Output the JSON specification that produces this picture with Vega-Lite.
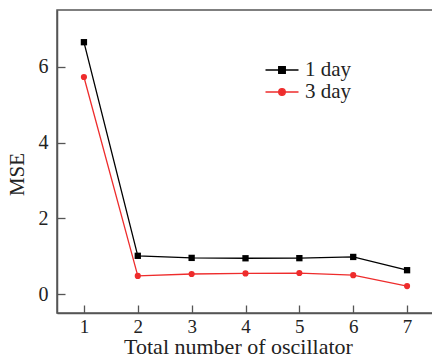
{
  "$schema": "https://vega.github.io/schema/vega-lite/v6.json",
  "width": 377,
  "height": 303,
  "autosize": {"type": "none"},
  "padding": {"left": 57, "top": 10, "right": 0, "bottom": 47},
  "background": "white",
  "config": {
    "font": "Liberation Serif",
    "view": {"stroke": "#555555", "strokeWidth": 1.5},
    "axis": {
      "grid": false,
      "domainColor": "#555555",
      "domainWidth": 1.5,
      "tickColor": "#555555",
      "tickWidth": 1.3,
      "tickSize": -8,
      "labelFont": "Liberation Serif",
      "labelFontSize": 20,
      "labelColor": "#222222",
      "titleFont": "Liberation Serif",
      "titleFontSize": 21,
      "titleFontWeight": "normal",
      "titleColor": "#222222"
    }
  },
  "data": {
    "values": [
      {"n": 1, "mse": 6.65, "series": "1 day"},
      {"n": 2, "mse": 1.01, "series": "1 day"},
      {"n": 3, "mse": 0.955, "series": "1 day"},
      {"n": 4, "mse": 0.945, "series": "1 day"},
      {"n": 5, "mse": 0.948, "series": "1 day"},
      {"n": 6, "mse": 0.98, "series": "1 day"},
      {"n": 7, "mse": 0.63, "series": "1 day"},
      {"n": 1, "mse": 5.73, "series": "3 day"},
      {"n": 2, "mse": 0.48, "series": "3 day"},
      {"n": 3, "mse": 0.53, "series": "3 day"},
      {"n": 4, "mse": 0.545, "series": "3 day"},
      {"n": 5, "mse": 0.555, "series": "3 day"},
      {"n": 6, "mse": 0.5, "series": "3 day"},
      {"n": 7, "mse": 0.21, "series": "3 day"}
    ]
  },
  "encoding": {
    "x": {
      "field": "n",
      "type": "quantitative",
      "scale": {"domain": [0.5, 7.5], "nice": false, "zero": false},
      "axis": {"values": [1, 2, 3, 4, 5, 6, 7], "title": "Total number of oscillator", "titleFontSize": 22, "titleX": 181, "labelFontSize": 19, "labelPadding": 12, "titlePadding": 0, "labelFlush": false}
    },
    "y": {
      "field": "mse",
      "type": "quantitative",
      "scale": {"domain": [-0.5, 7.5], "nice": false, "zero": false},
      "axis": {"values": [0, 2, 4, 6], "title": "MSE", "titleY": 164, "labelPadding": 17, "titlePadding": 11}
    }
  },
  "layer": [
    {
      "mark": {"type": "line", "strokeWidth": 1.3},
      "encoding": {
        "color": {
          "field": "series",
          "type": "nominal",
          "scale": {"domain": ["1 day", "3 day"], "range": ["#000000", "#ee2c2c"]},
          "legend": {
            "title": null,
            "orient": "none",
            "legendX": 213,
            "legendY": 48,
            "labelFont": "Liberation Serif",
            "labelFontSize": 21,
            "labelColor": "#222222",
            "labelOffset": 11,
            "rowPadding": 0,
            "symbolType": "M-1.5,0H-0.3M0.3,0H1.5M-0.3,-0.3H0.3V0.3H-0.3Z",
            "symbolSize": 484,
            "symbolStrokeWidth": 1.3,
            "encode": {
              "symbols": {
                "update": {
                  "shape": {"signal": "datum.value === '3 day' ? 'M-1.5,0H-0.3M0.3,0H1.5M0.3,0A0.3,0.3 0 1,1 -0.3,0A0.3,0.3 0 1,1 0.3,0Z' : 'M-1.5,0H-0.3M0.3,0H1.5M-0.3,-0.3H0.3V0.3H-0.3Z'"},
                  "fill": {"scale": "color", "field": "value"},
                  "stroke": {"scale": "color", "field": "value"}
                }
              }
            }
          }
        }
      }
    },
    {
      "transform": [{"filter": "datum.series === '1 day'"}],
      "mark": {"type": "point", "shape": "square", "filled": true, "opacity": 1, "size": 40, "color": "#000000"}
    },
    {
      "transform": [{"filter": "datum.series === '3 day'"}],
      "mark": {"type": "point", "shape": "circle", "filled": true, "opacity": 1, "size": 38, "color": "#ee2c2c"}
    }
  ]
}
